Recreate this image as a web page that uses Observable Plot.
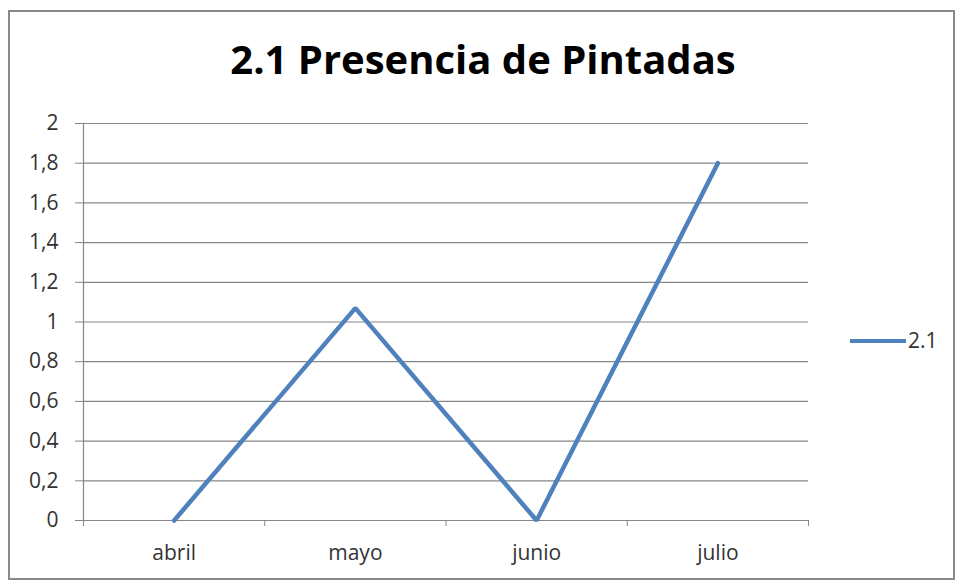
<!DOCTYPE html>
<html>
<head>
<meta charset="utf-8">
<script src="https://cdn.jsdelivr.net/npm/d3@7"></script>
<script src="https://cdn.jsdelivr.net/npm/@observablehq/plot@0.6"></script>
<style>
  html, body { margin: 0; padding: 0; background: #fff; }
  #wrap { position: relative; width: 966px; height: 587px; overflow: hidden; }
  #frame { position: absolute; left: 8px; top: 10px; width: 947px; height: 570px; border: 2px solid #8a8a8a; box-sizing: border-box; }
  #title { position: absolute; left: 0; width: 966px; top: 37px; text-align: center; font-family: "Open Sans", sans-serif; font-weight: bold; font-size: 40px; line-height: 44px; color: #000; }
  #legend { position: absolute; left: 850px; top: 325px; font-family: "Open Sans", sans-serif; font-size: 21px; line-height: 30px; color: #333; display: flex; align-items: center; }
  #legend .sw { width: 56px; height: 4px; background: #4F81BD; margin-right: 2px; margin-top: 2px; }
  #chart { position: absolute; left: 0; top: 0; }
  #chart svg text { font-size: 21px !important; }
</style>
</head>
<body>
<div id="wrap">
  <div id="frame"></div>
  <div id="chart"></div>
  <div id="title"></div>
  <div id="legend"><div class="sw"></div><span id="legtext"></span></div>
</div>
<script>
const title = "2.1 Presencia de Pintadas";
const seriesName = "2.1";
const months = ["abril", "mayo", "junio", "julio"];
const values = [0, 1.07, 0, 1.8];
const yTicks = [0, 0.2, 0.4, 0.6, 0.8, 1, 1.2, 1.4, 1.6, 1.8, 2];

document.getElementById("title").textContent = title;
document.getElementById("legtext").textContent = seriesName;

const data = months.map((m, i) => ({i, month: m, value: values[i]}));
const idx = months.map((m, i) => i);
const bounds = months.map((m, i) => i - 0.5).concat([months.length - 0.5]);
const fmt = d => String(+d.toFixed(1)).replace(".", ",");
const font = "'Open Sans', sans-serif";

const chart = Plot.plot({
  width: 966,
  height: 587,
  marginLeft: 83,
  marginRight: 158,
  marginTop: 123,
  marginBottom: 67,
  style: { fontFamily: font, fontSize: "21px", color: "#333", background: "transparent", overflow: "visible" },
  x: { type: "linear", domain: [-0.5, months.length - 0.5] },
  y: { domain: [0, 2] },
  marks: [
    Plot.ruleY(yTicks, { stroke: "#868686", strokeWidth: 1.2 }),
    Plot.axisY({ ticks: yTicks, tickFormat: fmt, tickSize: 8, tickPadding: 17, stroke: "#868686", fill: "#333", fontSize: 21, label: null }),
    Plot.axisX({ ticks: bounds, tickFormat: () => "", tickSize: 6, stroke: "#868686", label: null }),
    Plot.axisX({ ticks: idx, tickFormat: i => months[i], tickSize: 0, tickPadding: 25, fill: "#333", fontSize: 21, label: null }),
    Plot.ruleX([-0.5], { stroke: "#868686", strokeWidth: 1.2 }),
    Plot.line(data, { x: "i", y: "value", stroke: "#4F81BD", strokeWidth: 4.5, strokeLinejoin: "miter" })
  ]
});
document.getElementById("chart").appendChild(chart);
</script>
</body>
</html>
